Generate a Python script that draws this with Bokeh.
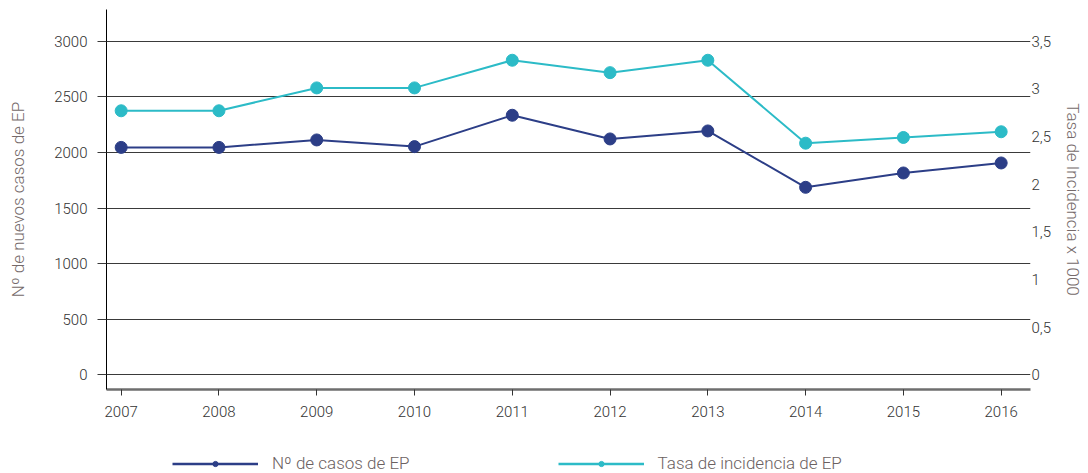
from bokeh.plotting import figure
from bokeh.layouts import column
from bokeh.models import (Range1d, LinearAxis, FixedTicker, Legend, LegendItem,
                          CustomJSTickFormatter)
from bokeh.embed import file_html
from bokeh.resources import INLINE

# ---- data ----
years = [2007, 2008, 2009, 2010, 2011, 2012, 2013, 2014, 2015, 2016]
casos = [2045, 2045, 2112, 2052, 2334, 2121, 2193, 1686, 1815, 1905]
tasa = [2.77, 2.77, 3.01, 3.01, 3.30, 3.17, 3.30, 2.43, 2.49, 2.55]
left_ticks = [0, 500, 1000, 1500, 2000, 2500, 3000]
right_ticks = [0, 0.5, 1, 1.5, 2, 2.5, 3, 3.5]
label_casos = "Nº de casos de EP"
label_tasa = "Tasa de incidencia de EP"
left_title = "Nº de nuevos casos de EP"
right_title = "Tasa de Incidencia x 1000"

DARK = "#2c3e87"
TEAL = "#2cbbc7"
GRID = "#3a3a3a"
TICKTXT = "#333333"
TITLETXT = "#756a6a"
FONT = "Roboto Light"

ymin, ymax = -132, 3285
p = figure(width=1088, height=448,
           x_range=Range1d(2006.85, 2016.3), y_range=Range1d(ymin, ymax),
           output_backend="svg", toolbar_location=None,
           min_border_left=106, min_border_right=58, min_border_top=9,
           min_border_bottom=59, outline_line_color=None,
           background_fill_color="white", border_fill_color="white")
p.extra_y_ranges = {"rate": Range1d(ymin * 3.5 / 3000, ymax * 3.5 / 3000)}

# x axis
xa = p.xaxis[0]
xa.ticker = FixedTicker(ticks=years)
xa.axis_line_color = "#6e6e6e"
xa.axis_line_width = 2.5
xa.major_tick_line_color = "#333333"
xa.major_tick_in = 0
xa.major_tick_out = 6
xa.minor_tick_line_color = None
xa.major_label_standoff = 10
xa.major_label_text_font = FONT
xa.major_label_text_font_size = "15px"
xa.major_label_text_color = TICKTXT

# left axis
ya = p.yaxis[0]
ya.ticker = FixedTicker(ticks=left_ticks)
ya.axis_line_color = "black"
ya.axis_line_width = 1
ya.major_tick_line_color = GRID
ya.major_tick_in = 0
ya.major_tick_out = 9
ya.minor_tick_line_color = None
ya.major_label_standoff = 10
ya.major_label_text_font = FONT
ya.major_label_text_font_size = "15px"
ya.major_label_text_color = TICKTXT
ya.axis_label = left_title
ya.axis_label_text_font = FONT
ya.axis_label_text_font_style = "normal"
ya.axis_label_text_font_size = "17px"
ya.axis_label_text_color = TITLETXT
ya.axis_label_standoff = 23

# right axis
ra = LinearAxis(y_range_name="rate", ticker=FixedTicker(ticks=right_ticks),
                formatter=CustomJSTickFormatter(code="return tick.toString().replace('.', ',');"))
ra.axis_line_color = None
ra.major_tick_line_color = None
ra.major_tick_in = 0
ra.major_tick_out = 0
ra.minor_tick_line_color = None
ra.major_label_standoff = 1
ra.major_label_text_font = FONT
ra.major_label_text_font_size = "15px"
ra.major_label_text_color = TICKTXT
ra.axis_label = right_title
ra.axis_label_text_font = FONT
ra.axis_label_text_font_style = "normal"
ra.axis_label_text_font_size = "17px"
ra.axis_label_text_color = TITLETXT
ra.axis_label_standoff = 9
p.add_layout(ra, "right")

p.xgrid.grid_line_color = None
p.ygrid.grid_line_color = GRID
p.ygrid.grid_line_width = 1

p.line(years, casos, line_color=DARK, line_width=2)
p.scatter(years, casos, size=12, fill_color=DARK, line_color=DARK)
p.line(years, tasa, line_color=TEAL, line_width=2, y_range_name="rate")
p.scatter(years, tasa, size=12, fill_color=TEAL, line_color=TEAL, y_range_name="rate")

# legend strip (separate figure so the legend sits below the x axis);
# its renderers hold points outside the strip's visible range
pl = figure(width=1088, height=25, output_backend="svg", toolbar_location=None,
            x_range=Range1d(0, 1), y_range=Range1d(0, 1),
            x_axis_location=None, y_axis_location=None,
            min_border_left=0, min_border_right=0, min_border_top=0,
            min_border_bottom=0, outline_line_color=None,
            background_fill_color="white", border_fill_color="white")
pl.xgrid.grid_line_color = None
pl.ygrid.grid_line_color = None
hidden_x = [5, 6]
hidden_y = [5, 5]
dl1 = pl.line(hidden_x, hidden_y, line_color=DARK, line_width=2.5)
ds1 = pl.scatter(hidden_x, hidden_y, size=12, fill_color=DARK, line_color=DARK)
dl2 = pl.line(hidden_x, hidden_y, line_color=TEAL, line_width=2.5)
ds2 = pl.scatter(hidden_x, hidden_y, size=12, fill_color=TEAL, line_color=TEAL)

legend = Legend(items=[LegendItem(label=label_casos, renderers=[dl1, ds1]),
                       LegendItem(label=label_tasa, renderers=[dl2, ds2])],
                orientation="horizontal", location=(66, 0),
                glyph_width=86, glyph_height=13, label_standoff=14, spacing=148,
                label_text_font=FONT, label_text_font_size="17px",
                label_text_color="#6b6161", border_line_color=None,
                background_fill_alpha=0, padding=0, margin=0)
pl.add_layout(legend, "center")

layout = column(p, pl, spacing=0)
open("out.html", "w").write(file_html(layout, INLINE))
